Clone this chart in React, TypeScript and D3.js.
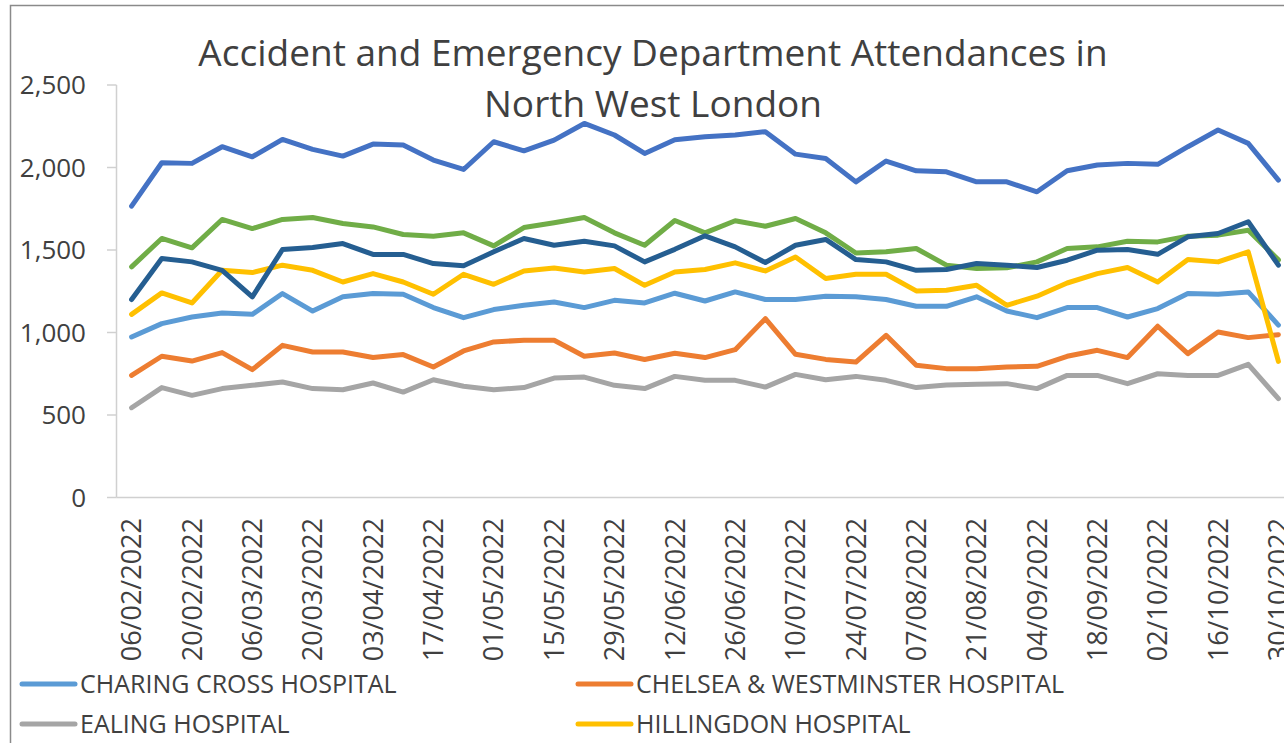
import React, { useEffect, useRef } from 'react'
import * as d3 from 'd3'

// weekly A&E attendances, week ending dates
const weeks = [
  '06/02/2022', '13/02/2022', '20/02/2022', '27/02/2022', '06/03/2022', '13/03/2022', '20/03/2022',
  '27/03/2022', '03/04/2022', '10/04/2022', '17/04/2022', '24/04/2022', '01/05/2022', '08/05/2022',
  '15/05/2022', '22/05/2022', '29/05/2022', '05/06/2022', '12/06/2022', '19/06/2022', '26/06/2022',
  '03/07/2022', '10/07/2022', '17/07/2022', '24/07/2022', '31/07/2022', '07/08/2022', '14/08/2022',
  '21/08/2022', '28/08/2022', '04/09/2022', '11/09/2022', '18/09/2022', '25/09/2022', '02/10/2022',
  '09/10/2022', '16/10/2022', '23/10/2022', '30/10/2022'
]

const charingCross = [973, 1054, 1094, 1118, 1110, 1236, 1130, 1216, 1236, 1232, 1151, 1090, 1139, 1165, 1185, 1151, 1195, 1179, 1238, 1191, 1246, 1200, 1200, 1220, 1216, 1200, 1159, 1159, 1216, 1130, 1090, 1151, 1151, 1094, 1145, 1236, 1232, 1246, 1045]
const chelsea = [740, 856, 827, 878, 775, 922, 882, 882, 848, 866, 791, 888, 943, 953, 953, 856, 876, 836, 874, 848, 896, 1084, 868, 837, 821, 983, 801, 781, 781, 791, 795, 856, 892, 848, 1038, 872, 1003, 969, 987]
const ealing = [544, 666, 619, 660, 680, 700, 660, 653, 694, 639, 714, 674, 653, 666, 724, 730, 680, 660, 734, 710, 710, 669, 746, 714, 734, 710, 666, 682, 686, 690, 660, 740, 740, 690, 750, 740, 740, 807, 599]
const hillingdon = [1110, 1240, 1179, 1377, 1363, 1408, 1377, 1306, 1357, 1306, 1232, 1353, 1292, 1373, 1391, 1367, 1388, 1286, 1367, 1382, 1422, 1373, 1458, 1327, 1353, 1353, 1252, 1256, 1286, 1165, 1220, 1300, 1357, 1394, 1306, 1442, 1428, 1489, 825]
// the next three series have their legend entries below the visible crop
const series5 = [1766, 2029, 2025, 2126, 2065, 2170, 2110, 2069, 2142, 2136, 2045, 1988, 2156, 2101, 2166, 2267, 2197, 2085, 2168, 2187, 2197, 2217, 2081, 2055, 1913, 2039, 1980, 1974, 1913, 1913, 1853, 1980, 2015, 2025, 2019, 2126, 2227, 2146, 1924]
const series6 = [1398, 1570, 1513, 1685, 1630, 1685, 1697, 1661, 1640, 1594, 1584, 1604, 1525, 1636, 1665, 1697, 1604, 1529, 1679, 1604, 1677, 1644, 1691, 1604, 1482, 1489, 1509, 1408, 1388, 1392, 1428, 1509, 1519, 1553, 1549, 1584, 1590, 1620, 1440]
const series7 = [1200, 1448, 1428, 1377, 1216, 1503, 1515, 1539, 1473, 1473, 1418, 1404, 1489, 1570, 1529, 1553, 1525, 1428, 1504, 1586, 1519, 1424, 1529, 1564, 1442, 1428, 1377, 1382, 1418, 1408, 1394, 1438, 1499, 1503, 1474, 1580, 1600, 1671, 1408]

const legendNames = ['CHARING CROSS HOSPITAL', 'CHELSEA & WESTMINSTER HOSPITAL', 'EALING HOSPITAL', 'HILLINGDON HOSPITAL']
const seriesValues = [charingCross, chelsea, ealing, hillingdon, series5, series6, series7]
const colors = ['#5B9BD5', '#ED7D31', '#A5A5A5', '#FFC000', '#4472C4', '#70AD47', '#255E91']
const yTicks = [0, 500, 1000, 1500, 2000, 2500]
const titleLines = ['Accident and Emergency Department Attendances in', 'North West London']

const W = 1284, H = 743

export default function App() {
  const ref = useRef<SVGSVGElement>(null)

  useEffect(() => {
    const svg = d3.select(ref.current)
    svg.selectAll('*').remove()

    const left = 116.5, right = 1293.5, top = 85, bottom = 497.5
    const font = "'Open Sans', sans-serif"
    const textColor = '#404040'

    svg.append('rect').attr('width', W).attr('height', H).attr('fill', '#fff')
    // chart border (only top & left visible in the crop)
    svg.append('path').attr('d', `M10.5,${H}V5.5H${W}`).attr('fill', 'none')
      .attr('stroke', '#8a8a8a').attr('stroke-width', 1.5)

    let x = d3.scaleBand().domain(weeks).range([left, right])
    let y = d3.scaleLinear().domain([0, 2500]).range([bottom, top])

    // title
    svg.append('g').selectAll('text').data(titleLines).enter().append('text')
      .attr('x', 653).attr('y', (d, i) => 66 + i * 51)
      .attr('text-anchor', 'middle').attr('font-family', font).attr('font-size', 37)
      .attr('fill', textColor).text(d => d)

    // y axis
    let gy = svg.append('g')
    gy.append('line').attr('x1', left).attr('x2', left).attr('y1', top).attr('y2', bottom)
      .attr('stroke', '#d0d0d0').attr('stroke-width', 1.5)
    gy.selectAll('line.tick').data(yTicks).enter().append('line').attr('class', 'tick')
      .attr('x1', 107).attr('x2', left).attr('y1', d => y(d)).attr('y2', d => y(d))
      .attr('stroke', '#d0d0d0').attr('stroke-width', 1.5)
    gy.selectAll('text').data(yTicks).enter().append('text')
      .attr('x', 86).attr('y', d => y(d)).attr('dy', '0.36em').attr('text-anchor', 'end')
      .attr('font-family', font).attr('font-size', 26).attr('fill', textColor)
      .text(d => d3.format(',')(d))

    // x axis
    svg.append('line').attr('x1', left).attr('x2', W).attr('y1', bottom).attr('y2', bottom)
      .attr('stroke', '#d0d0d0').attr('stroke-width', 1.5)
    svg.append('g').selectAll('text').data(weeks.filter((d, i) => i % 2 === 0)).enter().append('text')
      .attr('transform', d => `translate(${x(d)! + x.bandwidth() / 2},518) rotate(-90)`)
      .attr('dy', '0.36em').attr('text-anchor', 'end')
      .attr('font-family', font).attr('font-size', 27).attr('fill', textColor)
      .text(d => d)

    // lines
    const line = d3.line<number>()
      .x((d, i) => x(weeks[i])! + x.bandwidth() / 2)
      .y(d => y(d))
    svg.append('g').selectAll('path').data(seriesValues).enter().append('path')
      .attr('d', d => line(d))
      .attr('fill', 'none')
      .attr('stroke', (d, i) => colors[i])
      .attr('stroke-width', 5)
      .attr('stroke-linejoin', 'round')
      .attr('stroke-linecap', 'round')

    // legend, two columns
    let lg = svg.append('g').selectAll('g').data(legendNames).enter().append('g')
      .attr('transform', (d, i) => `translate(${i % 2 === 0 ? 22 : 578},${684 + Math.floor(i / 2) * 40})`)
    lg.append('line').attr('x1', 0).attr('x2', 53).attr('y1', 0).attr('y2', 0)
      .attr('stroke', (d, i) => colors[i]).attr('stroke-width', 5).attr('stroke-linecap', 'round')
    lg.append('text').attr('x', 58).attr('dy', '0.36em')
      .attr('font-family', font).attr('font-size', 25).attr('fill', textColor)
      .text(d => d)
  }, [])

  return (
    <svg ref={ref} width={W} height={H} style={{ position: 'absolute', left: 0, top: 0 }} />
  )
}
